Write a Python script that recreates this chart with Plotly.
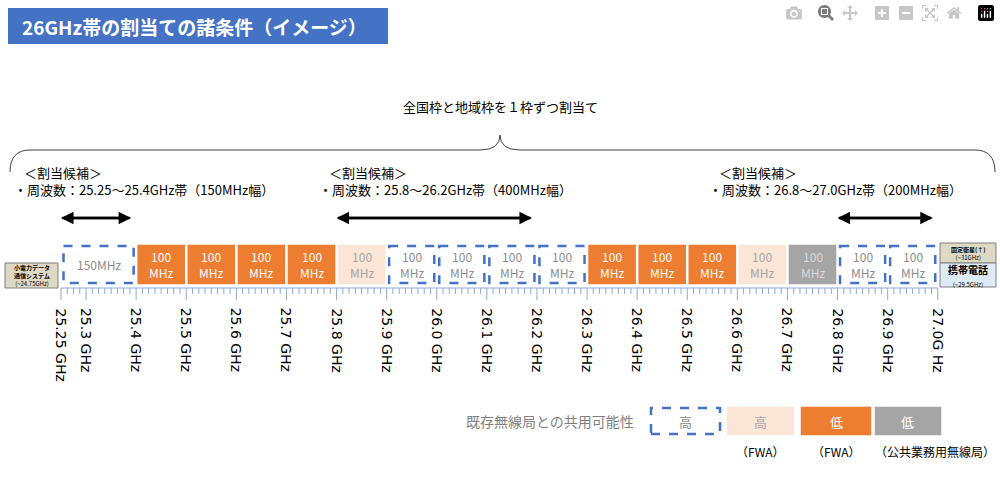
import numpy as np
import plotly.graph_objects as go

# band blocks (GHz)
block_start = [25.25, 25.4, 25.5, 25.6, 25.7, 25.8, 25.9, 26.0, 26.1, 26.2, 26.3, 26.4, 26.5, 26.6, 26.7, 26.8, 26.9]
block_end = [25.4, 25.5, 25.6, 25.7, 25.8, 25.9, 26.0, 26.1, 26.2, 26.3, 26.4, 26.5, 26.6, 26.7, 26.8, 26.9, 27.0]
block_kind = ['dash', 'orange', 'orange', 'orange', 'orange', 'peach', 'dash', 'dash', 'dash', 'dash',
              'orange', 'orange', 'orange', 'peach', 'gray', 'dash', 'dash']
block_label = ['150MHz'] + ['100<br>MHz'] * 16

tick_vals = [25.25, 25.3, 25.4, 25.5, 25.6, 25.7, 25.8, 25.9, 26.0, 26.1, 26.2, 26.3, 26.4, 26.5, 26.6, 26.7, 26.8, 26.9, 27.0]
tick_text = ['25.25 GHz', '25.3 GHz', '25.4 GHz', '25.5 GHz', '25.6 GHz', '25.7 GHz', '25.8 GHz', '25.9 GHz',
             '26.0 GHz', '26.1 GHz', '26.2 GHz', '26.3 GHz', '26.4 GHz', '26.5 GHz', '26.6 GHz', '26.7 GHz',
             '26.8 GHz', '26.9 GHz', '27.0G Hz']

arrow_ranges = [(25.25, 25.39), (25.8, 26.19), (26.8, 26.99)]
cand_x = [25.25 - 0.078, 25.8 - 0.02, 26.55 + 0.01]
cand_text = ['・周波数：25.25～25.4GHz帯（150MHz幅）', '・周波数：25.8～26.2GHz帯（400MHz幅）',
             '・周波数：26.8～27.0GHz帯（200MHz幅）']

FONT = 'Noto Sans CJK JP'
BLUE = '#4472C4'
fill = {'dash': 'white', 'orange': '#ED7D31', 'peach': '#FBE5D6', 'gray': '#A5A5A5'}
txtc = {'dash': '#8C8C8C', 'orange': 'white', 'peach': '#A6A6A6', 'gray': '#D9D9D9'}

x0 = 25.25 - 61 / 501
x1 = 25.25 + 939 / 501

def py(p):
    return 1 - p / 482

def pann(x, y, text, size, color='black', xanchor='center', **kw):
    return dict(xref='paper', yref='paper', x=x, y=y, text=text, showarrow=False, xanchor=xanchor,
                yanchor='middle', font=dict(size=size, color=color, family=FONT), **kw)

fig = go.Figure()
shapes = []
ann = []

# axis ticks as a trace
tx, ty = [], []
for g in np.arange(25.25, 27.0001, 0.0125):
    g = round(g, 4)
    major = any(abs(g - t) < 1e-6 for t in tick_vals)
    tx += [g, g, None]
    ty += [288, 300 if major else 294, None]
tx += [25.25, 27.0]
ty += [288, 288]
fig.add_trace(go.Scatter(x=tx, y=ty, mode='lines', line=dict(color='#8EA9DB', width=1), hoverinfo='skip'))

for s, e, k, lab in zip(block_start, block_end, block_kind, block_label):
    shapes.append(dict(type='rect', x0=s + 0.005, x1=e - 0.005, y0=246, y1=283, fillcolor=fill[k],
                       line=dict(color=BLUE if k == 'dash' else fill[k], width=2.5, dash='dash' if k == 'dash' else 'solid')))
    ann.append(dict(x=(s + e) / 2, y=264.5, text=lab, showarrow=False, font=dict(size=12, color=txtc[k], family=FONT)))

for t, lab in zip(tick_vals, tick_text):
    ann.append(dict(x=t, y=306, text=lab, textangle=90, showarrow=False, yanchor='top', xanchor='center',
                    font=dict(size=14, color='black', family='DejaVu Sans')))

for a, b in arrow_ranges:
    for tail, head in [(a, b), (b, a)]:
        ann.append(dict(x=head, y=218, ax=tail, ay=218, axref='x', ayref='y', text='', showarrow=True,
                        arrowhead=2, arrowsize=1, arrowwidth=2.5, arrowcolor='black'))

for cx, ct in zip(cand_x, cand_text):
    ann.append(dict(x=cx, y=172, text='＜割当候補＞', showarrow=False, xanchor='left', font=dict(size=13, family=FONT, color='black')))
    ann.append(dict(x=cx - 0.02, y=189, text=ct, showarrow=False, xanchor='left', font=dict(size=13, family=FONT, color='black')))

fig.update_layout(
    width=1000, height=482, margin=dict(l=0, r=0, t=0, b=0),
    plot_bgcolor='white', paper_bgcolor='white', showlegend=False,
    xaxis=dict(range=[x0, x1], visible=False),
    yaxis=dict(range=[482, 0], visible=False),
)

# title bar and decorative items in paper coords
shapes.append(dict(type='rect', xref='paper', yref='paper', x0=0.008, x1=0.388, y0=py(44), y1=py(8), fillcolor=BLUE, line_width=0))
ann.append(pann(0.02, py(26), '<b>26GHz帯の割当ての諸条件（イメージ）</b>', 19, 'white', xanchor='left'))
ann.append(pann(0.5, py(106), '全国枠と地域枠を１枠ずつ割当て', 13))
shapes.append(dict(type='path', xref='paper', yref='paper',
                   path=f'M 0.01 {py(172)} Q 0.01 {py(150)} 0.03 {py(150)} L 0.48 {py(150)} Q 0.5 {py(150)} 0.5 {py(135)} '
                        f'Q 0.5 {py(150)} 0.52 {py(150)} L 0.975 {py(150)} Q 0.995 {py(150)} 0.995 {py(172)}',
                   line=dict(color='#404040', width=1)))

# side boxes
shapes.append(dict(type='rect', xref='paper', yref='paper', x0=0.005, x1=0.058, y0=py(288), y1=py(263), fillcolor='#DDD9C4', line=dict(color='#7F7F7F', width=1)))
ann.append(pann(0.0315, py(275), '<b>小電力データ<br>通信システム</b><br>(~24.75GHz)', 6))
shapes.append(dict(type='rect', xref='paper', yref='paper', x0=0.94, x1=0.996, y0=py(263), y1=py(243), fillcolor='#DDD9C4', line=dict(color='#7F7F7F', width=1)))
shapes.append(dict(type='rect', xref='paper', yref='paper', x0=0.94, x1=0.996, y0=py(287), y1=py(263), fillcolor='#DDEBF7', line=dict(color='#7F7F7F', width=1)))
ann.append(pann(0.968, py(253), '<b>固定衛星(↑)</b><br>(~31GHz)', 6))
ann.append(pann(0.968, py(275), '<b>携帯電話</b><br><span style="font-size:6px">(~29.5GHz)</span>', 10))

# legend
leg_x = [(0.651, 0.720), (0.728, 0.793), (0.802, 0.870), (0.876, 0.940)]
leg_kind = ['dash', 'peach', 'orange', 'gray']
leg_text = ['高', '高', '低', '低']
leg_sub = ['', '（FWA）', '（FWA）', '（公共業務用無線局）']
ann.append(pann(0.636, py(421), '既存無線局との共用可能性', 14, '#7F7F7F', xanchor='right'))
for (a, b), k, t, sub in zip(leg_x, leg_kind, leg_text, leg_sub):
    shapes.append(dict(type='rect', xref='paper', yref='paper', x0=a, x1=b, y0=py(434), y1=py(408), fillcolor=fill[k],
                       line=dict(color=BLUE if k == 'dash' else fill[k], width=2.5, dash='dash' if k == 'dash' else 'solid')))
    ann.append(pann((a + b) / 2, py(421), t, 13, txtc[k] if k != 'gray' else 'white'))
    if sub:
        ann.append(pann((a + b) / 2 + (0.027 if k == 'gray' else 0), py(451), sub, 12))

fig.update_layout(shapes=shapes, annotations=ann)
fig.write_html('out.html', post_script="document.body.style.margin='0';")
